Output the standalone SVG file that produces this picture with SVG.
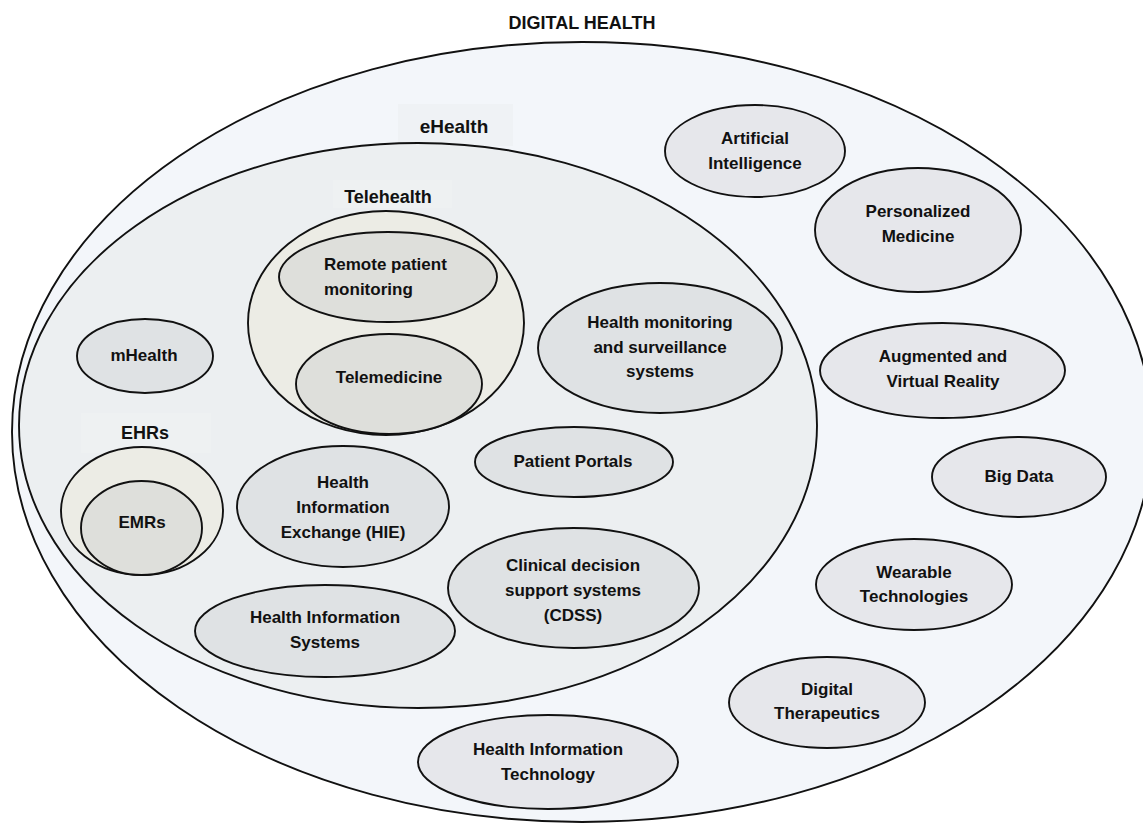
<svg xmlns="http://www.w3.org/2000/svg" width="1143" height="825" viewBox="0 0 1143 825">
  <style>
    .ring { stroke: #111; stroke-width: 1.9; }
    .outer { fill: #f3f6fa; }
    .ehealth { fill: #eceff1; }
    .group { fill: #ecece5; }
    .inner { fill: #dedfdb; }
    .node { fill: #dfe2e4; }
    .ext { fill: #e6e7eb; }
    .tagbox { stroke: none; }
    text { font-family: "Liberation Sans", Arial, sans-serif; font-weight: bold; fill: #111; text-anchor: middle; }
    .lbl { font-size: 17px; }
    .title { font-size: 18px; }
    .sub { font-size: 18px; }
    .big { font-size: 19px; }
  </style>

  <!-- Title -->
  <text class="title" x="582" y="29">DIGITAL HEALTH</text>

  <!-- Digital health container -->
  <g id="digital-health">
    <ellipse class="ring outer" cx="582" cy="432" rx="570" ry="390"/>
  </g>

  <!-- eHealth container -->
  <g id="ehealth">
    <rect class="tagbox" x="398" y="104" width="115" height="42" fill="#eff2f5"/>
    <text class="big" x="454" y="133">eHealth</text>
    <ellipse class="ring ehealth" cx="418" cy="425.5" rx="399" ry="282.5"/>
  </g>

  <!-- Telehealth group -->
  <g id="telehealth">
    <rect class="tagbox" x="333" y="180" width="119" height="28" fill="#eef1f2"/>
    <text class="sub" x="388" y="203">Telehealth</text>
    <ellipse class="ring group" cx="386" cy="323" rx="138" ry="112"/>
  </g>
  <g id="remote-patient-monitoring">
    <ellipse class="ring inner" cx="388" cy="277" rx="109" ry="45"/>
    <text class="lbl" x="324" y="270" style="text-anchor:start">Remote patient</text>
    <text class="lbl" x="324" y="295" style="text-anchor:start">monitoring</text>
  </g>
  <g id="telemedicine">
    <ellipse class="ring inner" cx="389" cy="384" rx="93" ry="50"/>
    <text class="lbl" x="389" y="383">Telemedicine</text>
  </g>

  <!-- mHealth -->
  <g id="mhealth">
    <ellipse class="ring node" cx="145" cy="356" rx="68" ry="37"/>
    <text class="lbl" x="144" y="361">mHealth</text>
  </g>

  <!-- EHRs group -->
  <g id="ehrs">
    <rect class="tagbox" x="81" y="413" width="130" height="40" fill="#eef1f2"/>
    <text class="sub" x="145" y="439">EHRs</text>
    <ellipse class="ring group" cx="142" cy="511" rx="81" ry="64"/>
  </g>
  <g id="emrs">
    <ellipse class="ring inner" cx="141.5" cy="528" rx="60.5" ry="47"/>
    <text class="lbl" x="142" y="528">EMRs</text>
  </g>

  <!-- Nodes inside eHealth -->
  <g id="health-monitoring">
    <ellipse class="ring node" cx="660" cy="348" rx="122" ry="65"/>
    <text class="lbl" x="660" y="328">Health monitoring</text>
    <text class="lbl" x="660" y="353">and surveillance</text>
    <text class="lbl" x="660" y="377">systems</text>
  </g>
  <g id="patient-portals">
    <ellipse class="ring node" cx="574" cy="462" rx="99" ry="35"/>
    <text class="lbl" x="573" y="467">Patient Portals</text>
  </g>
  <g id="hie">
    <ellipse class="ring node" cx="343" cy="506.5" rx="106" ry="60.5"/>
    <text class="lbl" x="343" y="488">Health</text>
    <text class="lbl" x="343" y="513">Information</text>
    <text class="lbl" x="343" y="538">Exchange (HIE)</text>
  </g>
  <g id="cdss">
    <ellipse class="ring node" cx="573.5" cy="588" rx="125.5" ry="60"/>
    <text class="lbl" x="573" y="571">Clinical decision</text>
    <text class="lbl" x="573" y="596">support systems</text>
    <text class="lbl" x="573" y="621">(CDSS)</text>
  </g>
  <g id="his">
    <ellipse class="ring node" cx="325" cy="631" rx="130" ry="46"/>
    <text class="lbl" x="325" y="623">Health Information</text>
    <text class="lbl" x="325" y="648">Systems</text>
  </g>

  <!-- Nodes in the wider digital health field -->
  <g id="artificial-intelligence">
    <ellipse class="ring ext" cx="755" cy="151" rx="90" ry="46"/>
    <text class="lbl" x="755" y="144">Artificial</text>
    <text class="lbl" x="755" y="169">Intelligence</text>
  </g>
  <g id="personalized-medicine">
    <ellipse class="ring ext" cx="918" cy="230" rx="103" ry="62"/>
    <text class="lbl" x="918" y="217">Personalized</text>
    <text class="lbl" x="918" y="242">Medicine</text>
  </g>
  <g id="ar-vr">
    <ellipse class="ring ext" cx="942.5" cy="370.5" rx="122.5" ry="47.5"/>
    <text class="lbl" x="943" y="362">Augmented and</text>
    <text class="lbl" x="943" y="387">Virtual Reality</text>
  </g>
  <g id="big-data">
    <ellipse class="ring ext" cx="1019" cy="477" rx="87" ry="40"/>
    <text class="lbl" x="1019" y="482">Big Data</text>
  </g>
  <g id="wearables">
    <ellipse class="ring ext" cx="914" cy="584.5" rx="98" ry="45.5"/>
    <text class="lbl" x="914" y="578">Wearable</text>
    <text class="lbl" x="914" y="602">Technologies</text>
  </g>
  <g id="digital-therapeutics">
    <ellipse class="ring ext" cx="827" cy="702.5" rx="98" ry="45.5"/>
    <text class="lbl" x="827" y="695">Digital</text>
    <text class="lbl" x="827" y="719">Therapeutics</text>
  </g>
  <g id="hit">
    <ellipse class="ring ext" cx="548" cy="762" rx="130" ry="47"/>
    <text class="lbl" x="548" y="755">Health Information</text>
    <text class="lbl" x="548" y="780">Technology</text>
  </g>
</svg>
